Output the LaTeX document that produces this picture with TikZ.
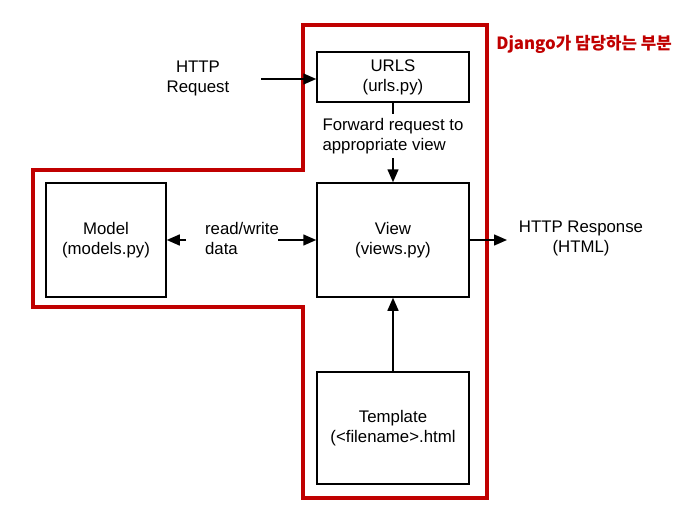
\documentclass[tikz,border=0pt]{standalone}
\usepackage{fontspec}
\setmainfont{Liberation Sans}
\newfontfamily\krfont{Noto Sans CJK KR}
\usetikzlibrary{arrows.meta}
\definecolor{djred}{HTML}{C00000}
\begin{document}
\begin{tikzpicture}[x=1pt,y=-1pt,
  box/.style={draw=black,line width=1.5pt,minimum width=152pt,align=center,inner sep=0pt},
  lbl/.style={font=\fontsize{16.8}{20}\selectfont,inner sep=0pt},
  conn/.style={line width=1.5pt},
  arr/.style={line width=1.5pt,-{Triangle[length=13pt,width=11pt]}}]
\useasboundingbox (0,0) rectangle (694,522);
% red boundary
\draw[djred,line width=4pt,line join=miter]
  (303,25) -- (487,25) -- (487,498) -- (303,498) -- (303,307) -- (33,307) -- (33,170) -- (303,170) -- cycle;
\node[lbl,text=djred,font=\krfont\bfseries\fontsize{16.8}{18}\selectfont] (dj) at (584,44) {Django가 담당하는 부분};
% boxes
\node[box,lbl,minimum height=50pt] (urls) at (393,77) {URLS\\(urls.py)};
\node[box,lbl,minimum height=114pt] (view) at (393,240) {View\\(views.py)};
\node[box,lbl,minimum width=120pt,minimum height=114pt] (model) at (106,240) {Model\\(models.py)};
\node[box,lbl,minimum height=112pt] (tpl) at (393,428) {Template\\(<filename>.html};
% labels
\node[lbl,align=center] (req) at (198,78) {HTTP\\Request};
\node[lbl,align=left] (fwd) at (393,136) {Forward request to\\appropriate view};
\node[lbl,align=left] (rw) at (242,238) {read/write\\data};
\node[lbl,align=center] (resp) at (581,238) {HTTP Response\\(HTML)};
% free ends
\coordinate (reqEnd) at (261,79);
\coordinate (fwdTop) at (393,114);
\coordinate (fwdBot) at (393,158);
\coordinate (rwL) at (186,240);
\coordinate (rwR) at (278,240);
\coordinate (respEnd) at (507,240);
% connectors
\draw[arr] (reqEnd) -- (urls.west |- reqEnd);
\draw[conn] (urls.south) -- (fwdTop);
\draw[arr] (fwdBot) -- (view.north);
\draw[arr] (rwL) -- (model.east);
\draw[arr] (rwR) -- (view.west);
\draw[arr] (view.east) -- (respEnd);
\draw[arr] (tpl.north) -- (view.south);
\end{tikzpicture}
\end{document}
